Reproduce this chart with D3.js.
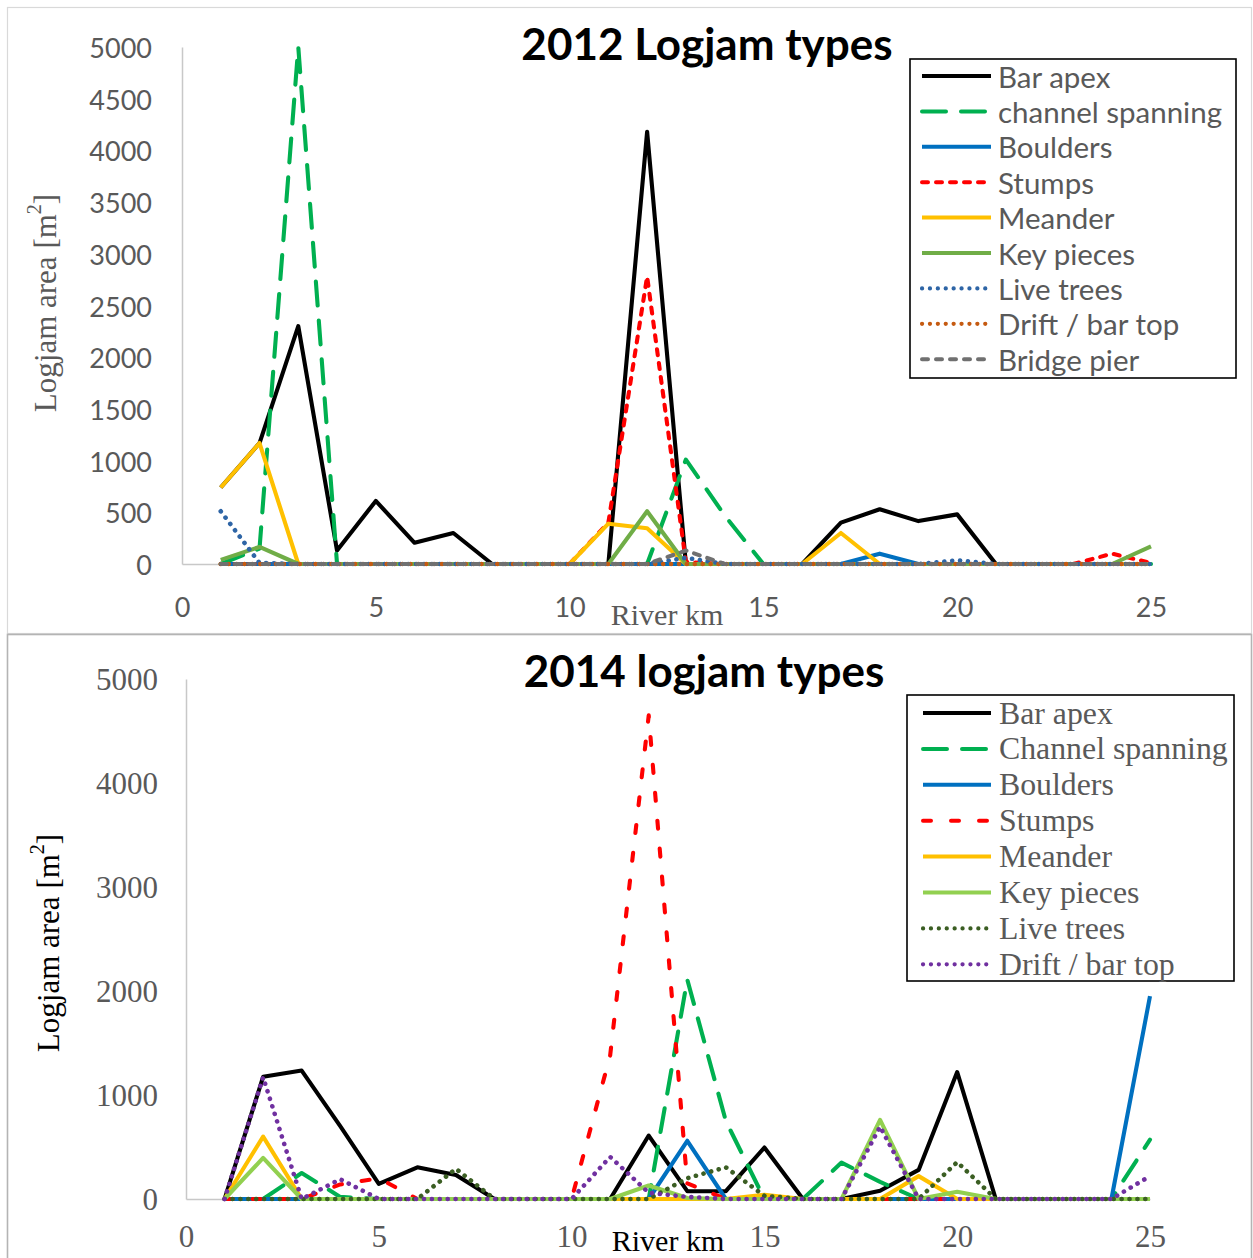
<!DOCTYPE html>
<html>
<head>
<meta charset="utf-8">
<script src="https://cdn.jsdelivr.net/npm/d3@7"></script>
<style>
  body { margin: 0; background: #fff; }
  svg { display: block; }
</style>
</head>
<body>
<svg id="chart" width="1253" height="1258"></svg>
<script>
// River kilometre of each survey reach
const km = d3.range(1, 26);

// ---- 2012 logjam area per reach [m²] ----
const barApex2012     = [740, 1170, 2300, 130, 610, 205, 300, 0, 0, 0, 0, 4180, 0, 0, 0, 0, 400, 530, 415, 480, 0, 0, 0, 0, 0];
const channelSpan2012 = [0, 150, 5000, 0, 0, 0, 0, 0, 0, 0, 0, 0, 1010, 470, 0, 0, 0, 0, 0, 0, 0, 0, 0, 0, 0];
const boulders2012    = [0, 0, 0, 0, 0, 0, 0, 0, 0, 0, 0, 0, 0, 0, 0, 0, 0, 100, 0, 0, 0, 0, 0, 0, 0];
const stumps2012      = [0, 0, 0, 0, 0, 0, 0, 0, 0, 0, 400, 2780, 20, 0, 0, 0, 0, 0, 0, 0, 0, 0, 0, 100, 10];
const meander2012     = [740, 1170, 0, 0, 0, 0, 0, 0, 0, 0, 390, 345, 0, 0, 0, 0, 300, 0, 0, 0, 0, 0, 0, 0, 0];
const keyPieces2012   = [40, 165, 0, 0, 0, 0, 0, 0, 0, 0, 0, 510, 0, 0, 0, 0, 0, 0, 0, 0, 0, 0, 0, 0, 170];
const liveTrees2012   = [510, 10, 0, 0, 0, 0, 0, 0, 0, 0, 0, 0, 60, 0, 0, 0, 0, 0, 0, 35, 0, 0, 0, 0, 0];
const drift2012       = [0, 0, 0, 0, 0, 0, 0, 0, 0, 0, 0, 0, 0, 0, 0, 0, 0, 0, 0, 0, 0, 0, 0, 0, 0];
const bridgePier2012  = [0, 0, 0, 0, 0, 0, 0, 0, 0, 0, 0, 0, 130, 0, 0, 0, 0, 0, 0, 0, 0, 0, 0, 0, 0];

// ---- 2014 logjam area per reach [m²] ----
const barApex2014     = [0, 1175, 1235, 700, 145, 305, 230, 0, 0, 0, 0, 610, 75, 75, 495, 0, 0, 80, 280, 1220, 0, 0, 0, 0, 0];
const channelSpan2014 = [0, 0, 250, 20, 0, 0, 0, 0, 0, 0, 0, 0, 2110, 750, 0, 0, 350, 165, 0, 0, 0, 0, 0, 0, 570];
const boulders2014    = [0, 0, 0, 0, 0, 0, 0, 0, 0, 0, 0, 0, 560, 0, 0, 0, 0, 0, 0, 0, 0, 0, 0, 0, 1950];
const stumps2014      = [0, 0, 0, 140, 200, 0, 0, 0, 0, 0, 1380, 4650, 150, 0, 0, 0, 0, 0, 0, 0, 0, 0, 0, 0, 0];
const meander2014     = [0, 600, 0, 0, 0, 0, 0, 0, 0, 0, 0, 0, 0, 0, 40, 0, 0, 0, 220, 0, 0, 0, 0, 0, 0];
const keyPieces2014   = [0, 395, 0, 0, 0, 0, 0, 0, 0, 0, 0, 130, 10, 0, 0, 0, 0, 760, 0, 70, 0, 0, 0, 0, 0];
const liveTrees2014   = [0, 0, 0, 0, 0, 0, 290, 0, 0, 0, 0, 0, 200, 305, 30, 0, 0, 0, 0, 355, 0, 0, 0, 0, 0];
const drift2014       = [0, 1170, 0, 190, 0, 0, 0, 0, 0, 0, 405, 60, 20, 0, 0, 0, 0, 695, 0, 0, 0, 0, 0, 0, 220];

// Tick labels
const xTicks = [0, 5, 10, 15, 20, 25];
const yTicks2012 = d3.range(0, 5001, 500);
const yTicks2014 = d3.range(0, 5001, 1000);

// Series definitions (name, values, stroke colour, dash pattern)
const DOT = "0.1,7.8";
const series2012 = [
  { name: "Bar apex",          values: barApex2012,     color: "#000000", dash: null },
  { name: "channel spanning",  values: channelSpan2012, color: "#00B050", dash: "24,15" },
  { name: "Boulders",          values: boulders2012,    color: "#0070C0", dash: null },
  { name: "Stumps",            values: stumps2012,      color: "#FF0000", dash: "6,8" },
  { name: "Meander",           values: meander2012,     color: "#FFC000", dash: null },
  { name: "Key pieces",        values: keyPieces2012,   color: "#70AD47", dash: null },
  { name: "Live trees",        values: liveTrees2012,   color: "#2E65A6", dash: DOT },
  { name: "Drift / bar top",   values: drift2012,       color: "#C55A11", dash: DOT },
  { name: "Bridge pier",       values: bridgePier2012,  color: "#707070", dash: "6,8" }
];
const series2014 = [
  { name: "Bar apex",          values: barApex2014,     color: "#000000", dash: null },
  { name: "Channel spanning",  values: channelSpan2014, color: "#00B050", dash: "24,15" },
  { name: "Boulders",          values: boulders2014,    color: "#0070C0", dash: null },
  { name: "Stumps",            values: stumps2014,      color: "#FF0000", dash: "8,20" },
  { name: "Meander",           values: meander2014,     color: "#FFC000", dash: null },
  { name: "Key pieces",        values: keyPieces2014,   color: "#92D050", dash: null },
  { name: "Live trees",        values: liveTrees2014,   color: "#3B5E23", dash: DOT },
  { name: "Drift / bar top",   values: drift2014,       color: "#7030A0", dash: DOT }
];

const SANS = "Lato, 'Open Sans', sans-serif";
const SERIF = "'Liberation Serif', 'DejaVu Serif', serif";
const GREY = "#595959";

const svg = d3.select("#chart");
svg.append("rect").attr("width", 1253).attr("height", 1258).attr("fill", "#fff");

// Panel frames
svg.append("rect").attr("x", 7.5).attr("y", 7.5).attr("width", 1244).attr("height", 626)
  .attr("fill", "none").attr("stroke", "#d9d9d9").attr("stroke-width", 1.2);
svg.append("rect").attr("x", 7.5).attr("y", 634.5).attr("width", 1244).attr("height", 630)
  .attr("fill", "none").attr("stroke", "#b4b4b4").attr("stroke-width", 1.6);

function drawPanel(cfg) {
  const g = svg.append("g");
  const x = d3.scaleLinear().domain([0, 25]).range([cfg.x0, cfg.x1]);
  const y = d3.scaleLinear().domain([0, 5000]).range([cfg.y0, cfg.y1]);

  // Y axis
  const ya = g.append("g").attr("transform", `translate(${cfg.x0},0)`)
    .call(d3.axisLeft(y).tickValues(cfg.yTicks).tickSize(0).tickPadding(cfg.yPad).tickFormat(d3.format("d")));
  ya.select(".domain").attr("stroke", "#c8c8c8").attr("stroke-width", 1.5);
  ya.selectAll("text").attr("font-family", cfg.tickFont).attr("font-size", cfg.tickSize)
    .attr("fill", GREY).attr("dy", null).attr("dominant-baseline", "central");

  // X axis
  const xa = g.append("g").attr("transform", `translate(0,${cfg.y0})`)
    .call(d3.axisBottom(x).tickValues(xTicks).tickSize(0).tickFormat(d3.format("d")));
  xa.select(".domain").attr("stroke", "#c8c8c8").attr("stroke-width", 1.5);
  xa.selectAll("text").attr("font-family", cfg.tickFont).attr("font-size", cfg.tickSize)
    .attr("fill", GREY).attr("dy", null).attr("y", cfg.xLabelOffset).attr("dominant-baseline", "central");

  // Series lines
  const line = d3.line().x((d, i) => x(km[i])).y(d => y(d));
  cfg.series.forEach(s => {
    g.append("path").datum(s.values)
      .attr("d", line)
      .attr("fill", "none")
      .attr("stroke", s.color)
      .attr("stroke-width", s.dash === DOT ? 4.6 : 4.1)
      .attr("stroke-linejoin", "round")
      .attr("stroke-linecap", s.dash ? "round" : "butt")
      .attr("stroke-dasharray", s.dash);
  });

  // Title
  g.append("text").attr("x", cfg.titleX).attr("y", cfg.titleY)
    .attr("text-anchor", "middle").attr("dominant-baseline", "central")
    .attr("font-family", SANS).attr("font-weight", 700).attr("font-size", 44)
    .attr("fill", "#000").text(cfg.title);

  // Axis titles
  const yt = g.append("text")
    .attr("transform", `translate(${cfg.yTitleX},${cfg.yTitleY}) rotate(-90)`)
    .attr("text-anchor", "middle").attr("dominant-baseline", "central")
    .attr("font-family", SERIF).attr("font-size", 31).attr("fill", cfg.axisTitleColor);
  yt.append("tspan").text("Logjam area [m");
  yt.append("tspan").attr("font-size", 20).attr("dy", -11).text("2");
  yt.append("tspan").attr("dy", 11).text("]");

  g.append("text").attr("x", cfg.xTitleX).attr("y", cfg.xTitleY)
    .attr("text-anchor", "middle").attr("dominant-baseline", "central")
    .attr("font-family", SERIF).attr("font-size", 30).attr("fill", cfg.axisTitleColor)
    .text("River km");

  // Legend
  const lg = g.append("g");
  lg.append("rect").attr("x", cfg.legend.x).attr("y", cfg.legend.y)
    .attr("width", cfg.legend.w).attr("height", cfg.legend.h)
    .attr("fill", "#fff").attr("stroke", "#000").attr("stroke-width", 1.6);
  cfg.series.forEach((s, i) => {
    const cy = cfg.legend.first + i * cfg.legend.step;
    lg.append("line").attr("x1", cfg.legend.lx0).attr("x2", cfg.legend.lx1)
      .attr("y1", cy).attr("y2", cy)
      .attr("stroke", s.color).attr("stroke-width", s.dash === DOT ? 4.2 : 4)
      .attr("stroke-linecap", s.dash ? "round" : "butt")
      .attr("stroke-dasharray", s.dash);
    lg.append("text").attr("x", cfg.legend.tx).attr("y", cy)
      .attr("dominant-baseline", "central")
      .attr("font-family", cfg.legend.font).attr("font-size", cfg.legend.size)
      .attr("fill", GREY).text(s.name);
  });
}

drawPanel({
  title: "2012 Logjam types", titleX: 707, titleY: 43,
  x0: 182, x1: 1151, y0: 564, y1: 47,
  yTicks: yTicks2012, yPad: 30, xLabelOffset: 42,
  tickFont: SANS, tickSize: 27,
  series: series2012,
  yTitleX: 45, yTitleY: 303, xTitleX: 667, xTitleY: 614, axisTitleColor: GREY,
  legend: { x: 910, y: 59, w: 326, h: 319, first: 76, step: 35.4,
            lx0: 922, lx1: 991, tx: 998, font: SANS, size: 29.5 }
});

drawPanel({
  title: "2014 logjam types", titleX: 704, titleY: 670,
  x0: 186, x1: 1150, y0: 1199, y1: 679,
  yTicks: yTicks2014, yPad: 28, xLabelOffset: 37,
  tickFont: SERIF, tickSize: 31,
  series: series2014,
  yTitleX: 48, yTitleY: 943, xTitleX: 668, xTitleY: 1240, axisTitleColor: "#000",
  legend: { x: 907, y: 695, w: 327, h: 286, first: 713, step: 35.9,
            lx0: 923, lx1: 991, tx: 999, font: SERIF, size: 31.8 }
});
</script>
</body>
</html>
